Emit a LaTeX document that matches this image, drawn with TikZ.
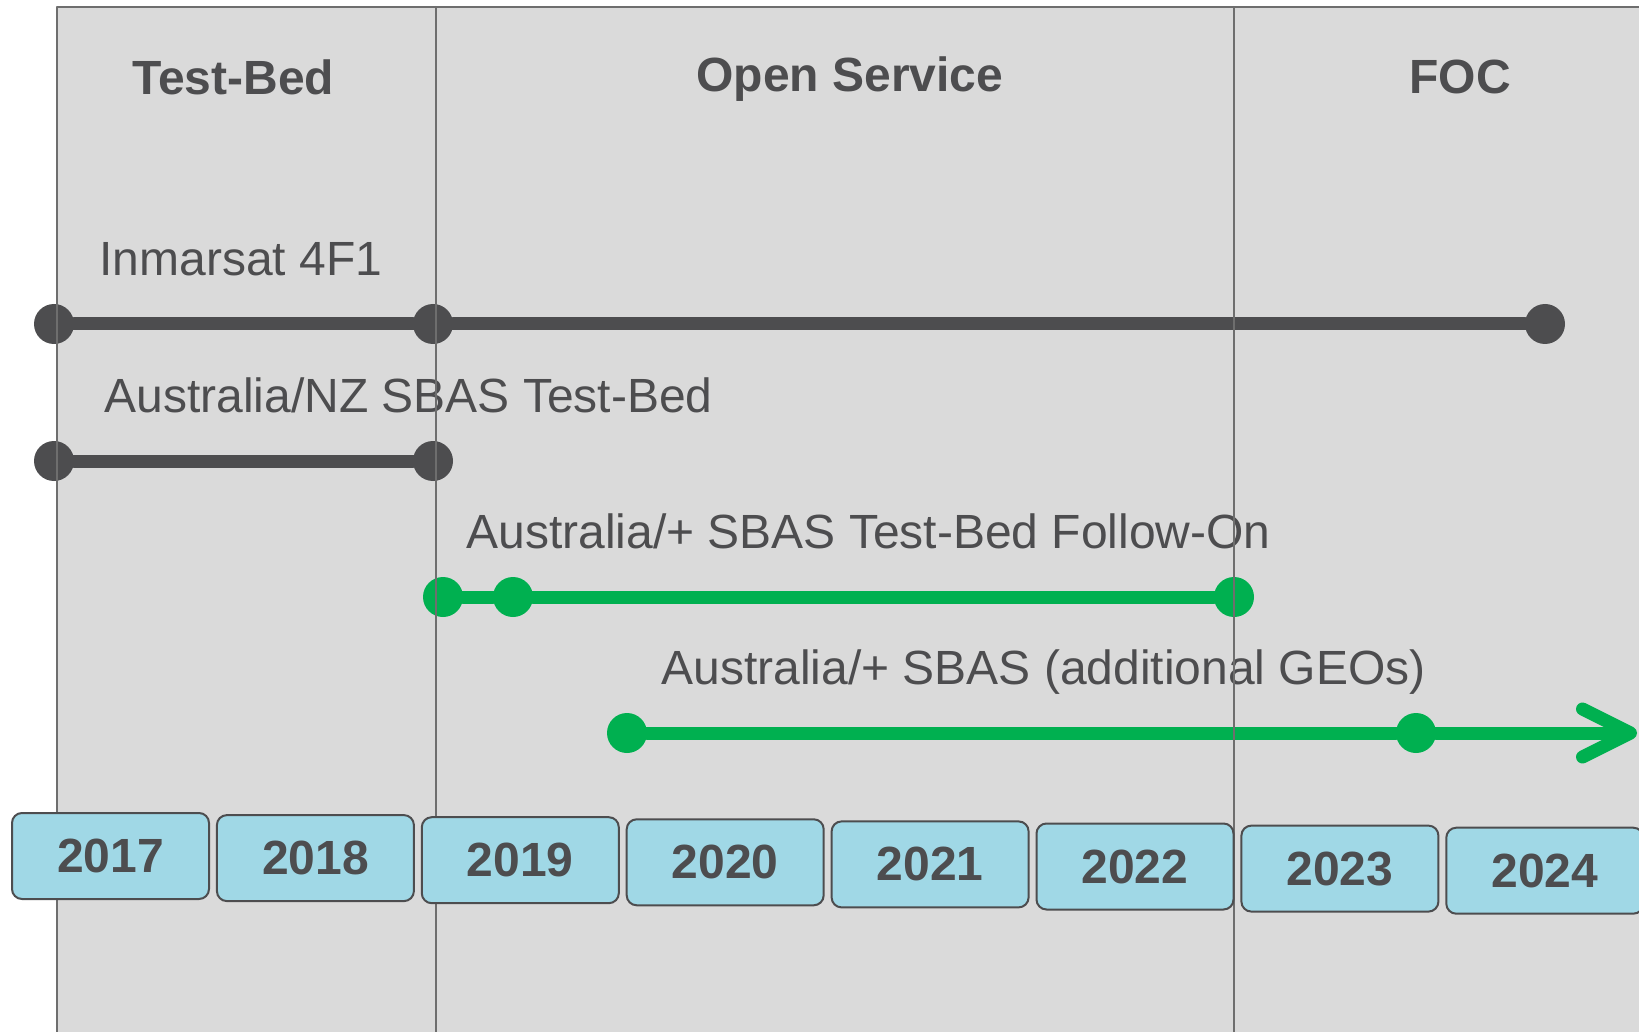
\documentclass[tikz,border=0pt]{standalone}
\usepackage{fontspec}
\setmainfont{Liberation Sans}
\usetikzlibrary{arrows.meta}
\definecolor{panel}{HTML}{DADADA}
\definecolor{rule}{HTML}{6E6E6E}
\definecolor{ink}{HTML}{4D4D4F}
\definecolor{sky}{HTML}{A0D8E6}
\definecolor{sbas}{HTML}{00B050}
\begin{document}
\begin{tikzpicture}[x=0.5pt, y=-0.5pt, line join=round, line cap=round,
		txt/.style={anchor=base west, inner sep=0, text=ink, font=\fontsize{24}{28}\selectfont},
		phase/.style={txt, font=\fontsize{24}{28}\selectfont\bfseries},
		ms/.style={circle, fill=#1, inner sep=0, minimum size=20pt},
		span/.style={draw=#1, line width=6.5pt},
		yearbox/.style={draw=ink, line width=1pt, fill=sky, rounded corners=5pt, minimum width=98.5pt, minimum height=43pt, inner sep=0, text=ink, font=\fontsize{24}{28}\selectfont\bfseries}]
		\useasboundingbox (0,0) rectangle (1639,1032);
		\clip (0,0) rectangle (1639,1032);
		\fill[panel] (57,7) rectangle (1645,1040);
		% phases
		\node[phase] (tb) at (132,95) {Test-Bed};
		\node[phase] (os) at (696,92) {Open Service};
		\node[phase] (foc) at (1409,94) {FOC};
		% programmes
		\node[txt] (inm) at (99,276) {Inmarsat 4F1};
		\node[txt] (anz) at (104,412) {Australia/NZ SBAS Test-Bed};
		\node[txt] (fol) at (466,548) {Australia/+ SBAS Test-Bed Follow-On};
		\node[txt] (geo) at (661,684) {Australia/+ SBAS (additional GEOs)};
		\node[ms=ink] (inm1) at (54,324) {};
		\node[ms=ink] (inm2) at (433,324) {};
		\node[ms=ink] (inm3) at (1545,324) {};
		\node[ms=ink] (anz1) at (54,461) {};
		\node[ms=ink] (anz2) at (433,461) {};
		\node[ms=sbas] (fol1) at (443,597) {};
		\node[ms=sbas] (fol2) at (513,597) {};
		\node[ms=sbas] (fol3) at (1234,597) {};
		\node[ms=sbas] (geo1) at (627,733) {};
		\node[ms=sbas] (geo2) at (1416,733) {};
		\coordinate (geoend) at (1637,733);
		\draw[span=ink] (inm1) -- (inm2) -- (inm3);
		\draw[span=ink] (anz1) -- (anz2);
		\draw[span=sbas] (fol1) -- (fol2) -- (fol3);
		\draw[span=sbas] (geo1) -- (geo2);
		\draw[span=sbas, -{Straight Barb[length=24pt, width=24pt, round]}] (geo2) -- (geoend);
		% grid
		\draw[rule, line width=1pt] (57,1040) |- (1645,7);
		\draw[rule, line width=1pt] (436,7) -- (436,1040) (1234,7) -- (1234,1040);
		% years
		\foreach \yr [count=\i from 0] in {2017,...,2024}
			\node[yearbox] (y\yr) at ({110.5+204.9*\i},{856+2.1*\i}) {\yr};
\end{tikzpicture}
\end{document}
